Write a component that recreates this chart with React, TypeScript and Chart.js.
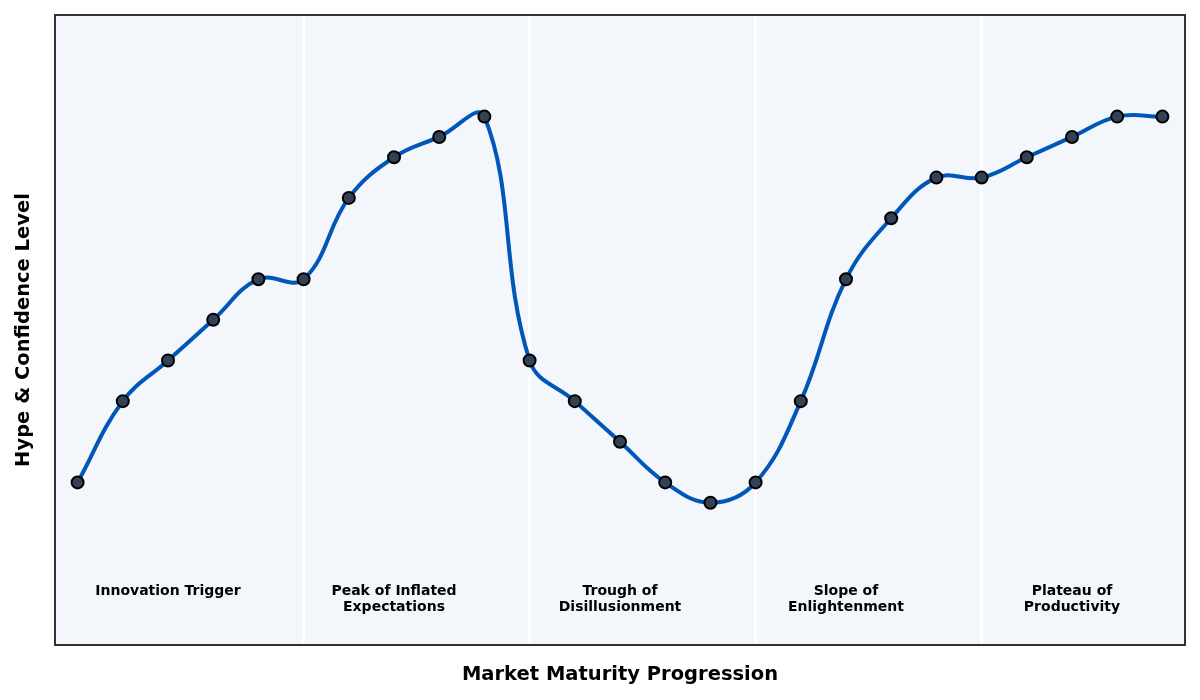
import React, { useEffect, useRef } from 'react';
import Chart from 'chart.js/auto';

// hype level at each maturity step (index 0..24)
const hypeLevels = [10, 30, 40, 50, 60, 60, 80, 90, 95, 100, 40, 30, 20, 10, 5, 10, 30, 60, 75, 85, 85, 90, 95, 100, 100];
const phaseNames = [
  ['Innovation Trigger'],
  ['Peak of Inflated', 'Expectations'],
  ['Trough of', 'Disillusionment'],
  ['Slope of', 'Enlightenment'],
  ['Plateau of', 'Productivity'],
];
const phaseCenters = [2, 7, 12, 17, 22];
const phaseBounds = [5, 10, 15, 20];
const labelLevel = -15;

const FONT = "'DejaVu Sans', sans-serif";

const backdrop = {
  id: 'backdrop',
  beforeDatasetsDraw(chart: any) {
    const { ctx, chartArea: a, scales } = chart;
    ctx.save();
    ctx.fillStyle = '#f3f6fa';
    ctx.fillRect(a.left, a.top, a.right - a.left, a.bottom - a.top);
    // phase separators
    ctx.strokeStyle = '#ffffff';
    ctx.lineWidth = 2.5;
    phaseBounds.forEach((b) => {
      const x = scales.x.getPixelForValue(b);
      ctx.beginPath();
      ctx.moveTo(x, a.top);
      ctx.lineTo(x, a.bottom);
      ctx.stroke();
    });
    // phase labels
    ctx.fillStyle = '#000';
    ctx.font = `bold 14px ${FONT}`;
    ctx.textAlign = 'center';
    ctx.textBaseline = 'top';
    phaseNames.forEach((lines, i) => {
      const x = scales.x.getPixelForValue(phaseCenters[i]);
      const y = scales.y.getPixelForValue(labelLevel);
      lines.forEach((t, j) => ctx.fillText(t, x, y + j * 16.5));
    });
    ctx.restore();
  },
  afterDraw(chart: any) {
    const { ctx, chartArea: a } = chart;
    ctx.save();
    ctx.strokeStyle = '#333333';
    ctx.lineWidth = 2;
    ctx.strokeRect(a.left, a.top, a.right - a.left, a.bottom - a.top);
    ctx.restore();
  },
};

const HypeCycle: React.FC = () => {
  const chartRef = useRef<HTMLCanvasElement | null>(null);

  useEffect(() => {
    let chart: Chart<'line'> | null = null;
    if (chartRef.current) {
      chart = new Chart(chartRef.current, {
        type: 'line',
        data: {
          datasets: [
            {
              data: hypeLevels.map((v, i) => ({ x: i, y: v })),
              borderColor: '#0057b8',
              borderWidth: 4,
              tension: 0.4,
              pointRadius: 6,
              pointBackgroundColor: '#334155',
              pointBorderColor: '#000000',
              pointBorderWidth: 2,
              fill: false,
            },
          ],
        },
        plugins: [backdrop],
        options: {
          animation: false,
          responsive: true,
          maintainAspectRatio: false,
          layout: { padding: { top: 15, right: 15, bottom: 4.6, left: 4 } },
          plugins: { legend: { display: false }, tooltip: { enabled: false } },
          scales: {
            x: {
              type: 'linear',
              min: -0.5,
              max: 24.5,
              grid: { display: false, drawTicks: false },
              border: { display: false },
              ticks: { display: false },
              title: {
                display: true,
                text: 'Market Maturity Progression',
                color: '#000',
                font: { family: FONT, size: 19.5, weight: 'bold' },
                padding: { top: 18.3, bottom: 8.7 },
              },
            },
            y: {
              min: -30,
              max: 125,
              grid: { display: false, drawTicks: false },
              border: { display: false },
              ticks: { display: false },
              title: {
                display: true,
                text: 'Hype & Confidence Level',
                color: '#000',
                font: { family: FONT, size: 19.5, weight: 'bold' },
                padding: { top: 8.3, bottom: 19.3 },
              },
            },
          },
        },
      });
    }
    return () => {
      if (chart) chart.destroy();
    };
  }, []);

  return <canvas ref={chartRef} />;
};

const App: React.FC = () => (
  <div style={{ position: 'fixed', left: 0, top: 0, width: 1200, height: 700, background: '#fff' }}>
    <HypeCycle />
  </div>
);

export default App;
